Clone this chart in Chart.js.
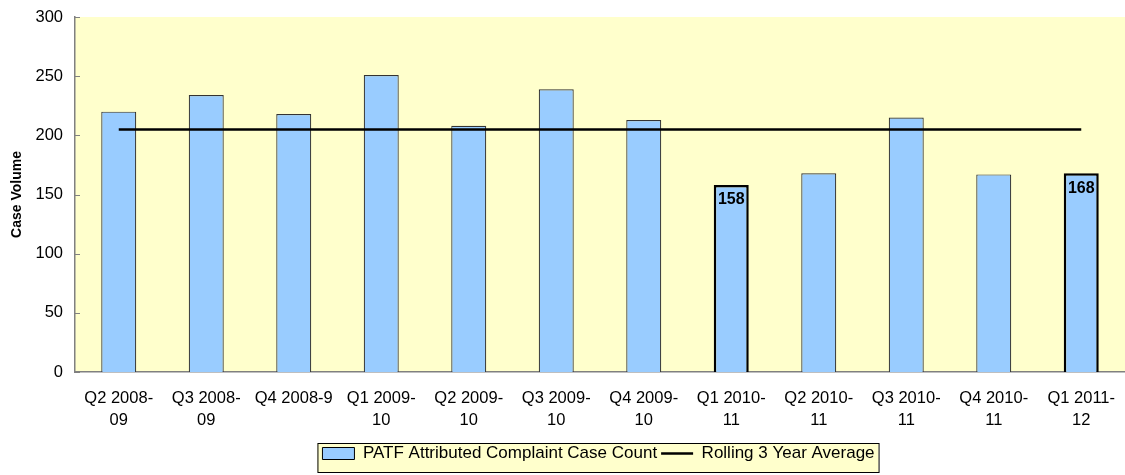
<!DOCTYPE html>
<html>
<head>
<meta charset="utf-8">
<script src="https://cdn.jsdelivr.net/npm/chart.js@4/dist/chart.umd.min.js"></script>
<style>
  html, body { margin: 0; padding: 0; background: #ffffff; }
  #wrap { position: relative; width: 1125px; height: 475px; }
  canvas { display: block; }
</style>
</head>
<body>
<div id="wrap"><canvas id="c" width="1125" height="475"></canvas></div>
<script>
const categories = [
  ["Q2 2008-", "09"], ["Q3 2008-", "09"], ["Q4 2008-9"], ["Q1 2009-", "10"],
  ["Q2 2009-", "10"], ["Q3 2009-", "10"], ["Q4 2009-", "10"], ["Q1 2010-", "11"],
  ["Q2 2010-", "11"], ["Q3 2010-", "11"], ["Q4 2010-", "11"], ["Q1 2011-", "12"]
];
const caseCounts = [220, 234, 218, 251, 208, 239, 213, 158, 168, 215, 167, 168];
const rollingAverage = [205, 205, 205, 205, 205, 205, 205, 205, 205, 205, 205, 205];
const highlighted = [false, false, false, false, false, false, false, true, false, false, false, true];
const yTicks = [0, 50, 100, 150, 200, 250, 300];

const FONT = "'Liberation Sans', Arial, sans-serif";

const plotBg = {
  id: 'plotBg',
  afterLayout(chart) {
    const lg = chart.legend;
    if (lg) { lg.left += 36; lg.right += 36; }
  },
  beforeDraw(chart) {
    const { ctx, chartArea: a } = chart;
    ctx.save();
    ctx.fillStyle = '#ffffff';
    ctx.fillRect(0, 0, chart.width, chart.height);
    ctx.fillStyle = '#FFFFCC';
    ctx.fillRect(a.left, a.top, a.right - a.left, a.bottom - a.top);
    // legend frame
    const lg = chart.legend;
    if (lg && lg.legendHitBoxes && lg.legendHitBoxes.length) {
      const boxes = lg.legendHitBoxes;
      const l = boxes[0].left - 5;
      const r = boxes[boxes.length - 1].left + boxes[boxes.length - 1].width + 4;
      ctx.fillStyle = '#FFFFCC';
      ctx.strokeStyle = '#000000';
      ctx.lineWidth = 1;
      ctx.fillRect(l, lg.top + 2, r - l, lg.height - 2);
      ctx.strokeRect(l + 0.5, lg.top + 2.5, r - l, lg.height - 2);
    }
    ctx.restore();
  },
  afterDatasetsDraw(chart) {
    const { ctx } = chart;
    const ys = chart.scales.y;
    const a = chart.chartArea;
    ctx.save();
    // inward y ticks
    ctx.strokeStyle = '#808080';
    ctx.lineWidth = 1;
    yTicks.forEach(v => {
      const y = Math.round(ys.getPixelForValue(v)) + 0.5;
      ctx.beginPath();
      ctx.moveTo(a.left, y);
      ctx.lineTo(a.left + 5, y);
      ctx.stroke();
    });
    // value labels on highlighted bars
    const meta = chart.getDatasetMeta(0);
    ctx.fillStyle = '#000000';
    ctx.font = 'bold 16px ' + FONT;
    ctx.textAlign = 'center';
    ctx.textBaseline = 'top';
    meta.data.forEach((bar, i) => {
      if (highlighted[i]) {
        ctx.fillText(String(caseCounts[i]), bar.x, bar.y + 7);
      }
    });
    ctx.restore();
  }
};

new Chart(document.getElementById('c'), {
  type: 'bar',
  data: {
    labels: categories,
    datasets: [
      {
        type: 'bar',
        label: 'PATF Attributed Complaint Case Count',
        data: caseCounts,
        backgroundColor: '#99CCFF',
        borderColor: highlighted.map(h => h ? '#000000' : '#333333'),
        borderWidth: highlighted.map(h => h ? 2.5 : 1.2),
        barPercentage: 0.4,
        categoryPercentage: 1.0,
        order: 1,
        pointStyle: 'rect'
      },
      {
        type: 'line',
        label: 'Rolling 3 Year Average',
        data: rollingAverage,
        borderColor: '#000000',
        backgroundColor: '#000000',
        borderWidth: 2.5,
        pointRadius: 0,
        fill: false,
        order: 0,
        pointStyle: 'line'
      }
    ]
  },
  options: {
    responsive: false,
    maintainAspectRatio: false,
    animation: false,
    devicePixelRatio: 1,
    layout: { padding: { top: 17, right: 0, left: 0, bottom: 3 } },
    plugins: {
      tooltip: { enabled: false },
      legend: {
        position: 'bottom',
        labels: {
          sort: (a, b) => a.datasetIndex - b.datasetIndex,
          usePointStyle: true,
          pointStyleWidth: 32,
          boxHeight: 12,
          padding: 4,
          color: '#000000',
          font: { family: FONT, size: 17 },
          generateLabels(chart) {
            const items = Chart.defaults.plugins.legend.labels.generateLabels(chart);
            items.forEach(it => {
              if (it.datasetIndex === 0) {
                it.fillStyle = '#99CCFF';
                it.strokeStyle = '#000000';
                it.lineWidth = 1;
              } else {
                it.strokeStyle = '#000000';
                it.lineWidth = 2.5;
              }
            });
            return items;
          }
        }
      }
    },
    scales: {
      x: {
        offset: true,
        grid: { display: false, drawTicks: false },
        border: { display: true, color: '#808080', width: 1.5 },
        ticks: {
          color: '#000000',
          font: { family: FONT, size: 16.5, lineHeight: 1.35 },
          padding: 15,
          maxRotation: 0,
          autoSkip: false
        },
        afterFit(scale) {
          scale.height = 69;
          scale.paddingLeft = 0;
          scale.paddingRight = 0;
        }
      },
      y: {
        min: 0,
        max: 300,
        afterBuildTicks(scale) { scale.ticks = yTicks.map(v => ({ value: v })); },
        grid: { display: false, drawTicks: false },
        border: { display: true, color: '#808080', width: 1.5 },
        ticks: {
          color: '#000000',
          font: { family: FONT, size: 16.5 },
          padding: 12
        },
        title: {
          display: true,
          text: 'Case Volume',
          color: '#000000',
          font: { family: FONT, size: 14, weight: 'bold' },
          padding: { top: 9, bottom: 4 }
        },
        afterFit(scale) {
          scale.width = 75;
          scale.paddingTop = 0;
          scale.paddingBottom = 0;
        }
      }
    }
  },
  plugins: [plotBg]
});
</script>
</body>
</html>
